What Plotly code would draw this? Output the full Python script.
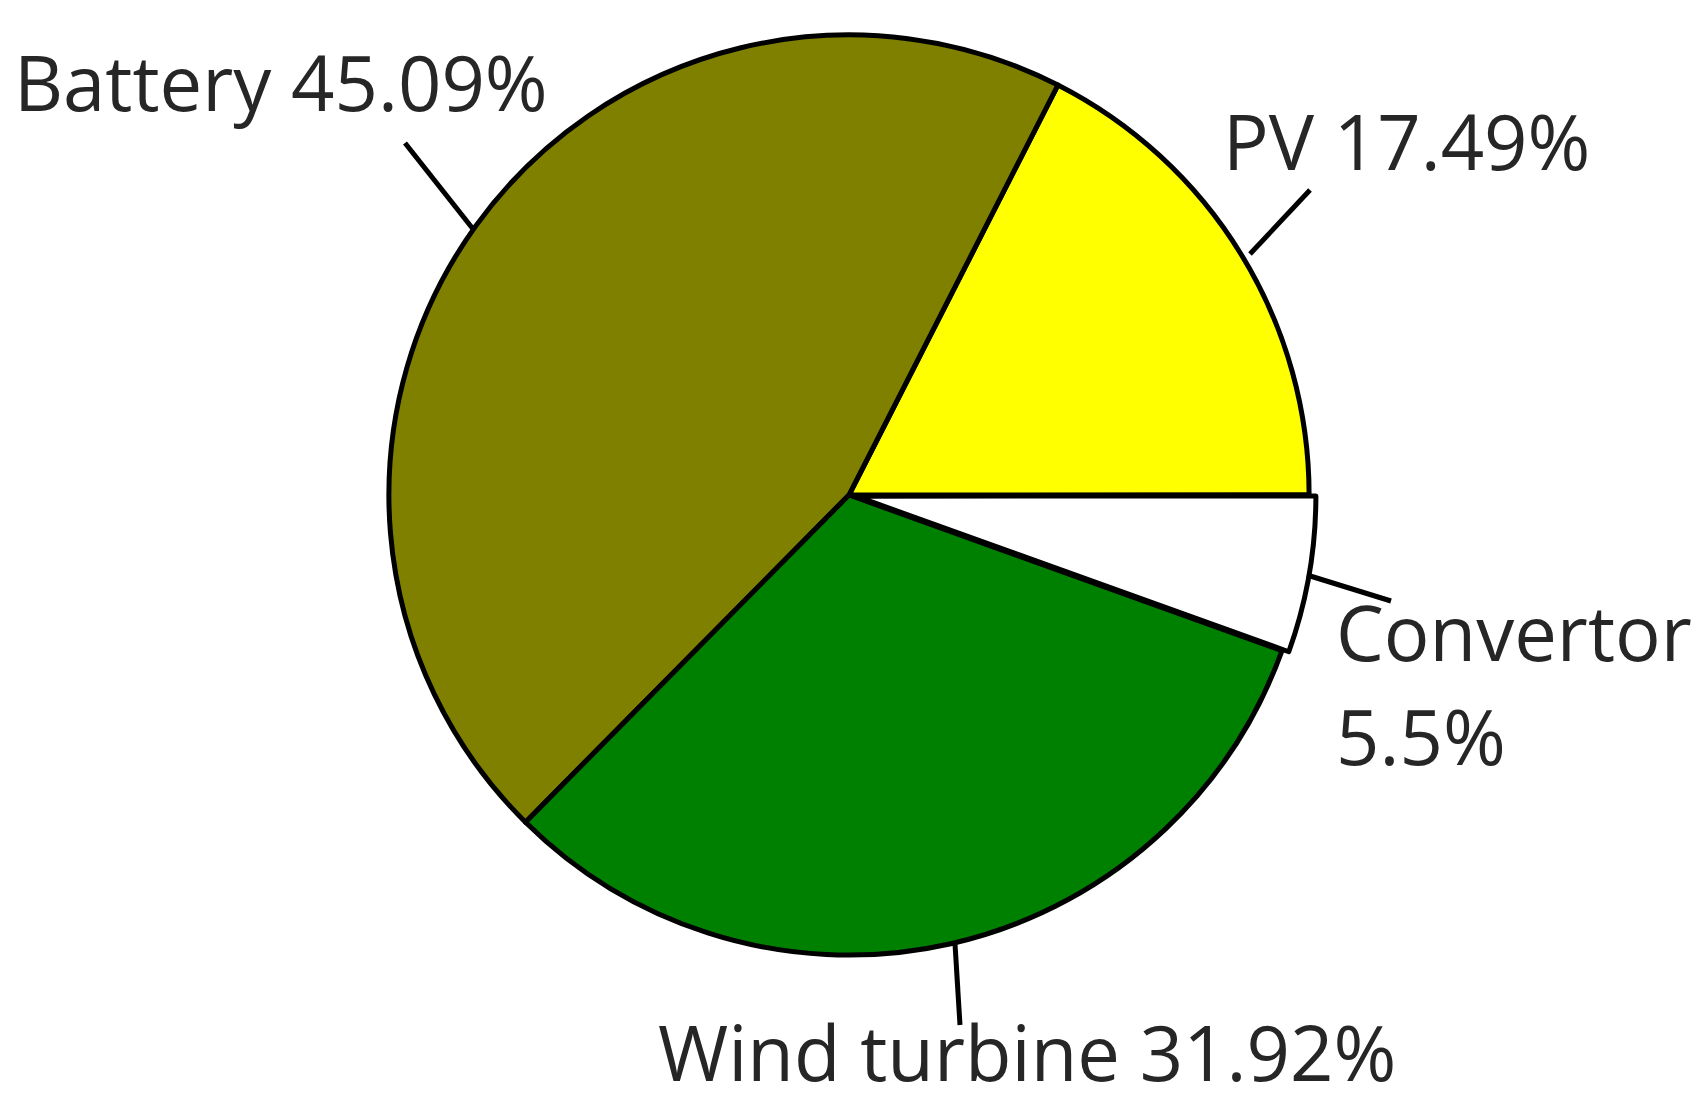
import plotly.graph_objects as go

W, H = 1702, 1110

labels = ["PV", "Battery", "Wind turbine", "Convertor"]
shares = [17.49, 45.09, 31.92, 5.5]
colors = ["#FFFF00", "#808000", "#008000", "#FFFFFF"]
label_lines = [["PV 17.49%"], ["Battery 45.09%"], ["Wind turbine 31.92%"], ["Convertor", "5.5%"]]


def px(x, y):
    # pixel position -> paper coords (no margins)
    return x / W, 1 - y / H


# plotly shrinks the radius by (1 + max pull), so the domain is a bit larger than the drawn circle
fig = go.Figure(go.Pie(
    labels=labels,
    values=shares,
    sort=False,
    direction="counterclockwise",
    rotation=27,
    pull=[0, 0, 0, 0.015],
    marker=dict(colors=colors, line=dict(color="black", width=5)),
    textinfo="none",
    hoverinfo="label+percent",
    showlegend=False,
    domain=dict(x=[374 / W, 1308 / W], y=[1 - 954 / H, 1 - 20 / H]),
))

# label placement (left edge, vertical centre of first line) and leader lines, in pixels
label_pos = {"PV": (1213, 132), "Battery": (4, 73), "Wind turbine": (648, 1043), "Convertor": (1326, 623)}
line_step = 104
leaders = {
    "PV": [(1242, 246), (1302, 182)],
    "Battery": [(465, 221), (397, 135)],
    "Wind turbine": [(947, 936), (952, 1017)],
    "Convertor": [(1299, 567), (1383, 593)],
}

font = dict(family="Open Sans, Noto Sans, sans-serif", size=76, color="#262626")
for name, lines in zip(labels, label_lines):
    lx, ly = label_pos[name]
    for i, txt in enumerate(lines):
        x, y = px(lx, ly + i * line_step)
        fig.add_annotation(x=x, y=y, xref="paper", yref="paper", text=txt, showarrow=False,
                           xanchor="left", yanchor="middle", align="left", font=font)
    (x0, y0), (x1, y1) = [px(*p) for p in leaders[name]]
    fig.add_shape(type="line", xref="paper", yref="paper", x0=x0, y0=y0, x1=x1, y1=y1,
                  line=dict(color="black", width=5))

fig.update_layout(width=W, height=H, margin=dict(l=0, r=0, t=0, b=0),
                  paper_bgcolor="white", plot_bgcolor="white")

fig.write_html("out.html")
